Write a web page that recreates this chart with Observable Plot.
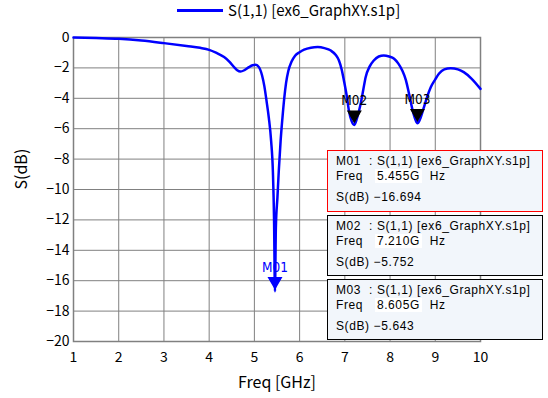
<!DOCTYPE html>
<html><head><meta charset="utf-8">
<script src="https://cdn.jsdelivr.net/npm/d3@7"></script>
<script src="https://cdn.jsdelivr.net/npm/@observablehq/plot@0.6"></script>
<style>
body{margin:0;background:#fff;font-family:"Noto Sans CJK JP","Liberation Sans",sans-serif;}
#wrap{position:relative;width:548px;height:398px;overflow:hidden;background:#fff}
#legend{position:relative;height:24px}
#legend .sw{position:absolute;left:177px;top:9px;width:46px;height:2.5px;background:#0000ff}
#legend .tx{position:absolute;left:228px;top:1px;font-size:15px;line-height:17px;white-space:nowrap}
.box{position:absolute;left:327px;width:216px;background:#f2f6fb;border:1px solid #000;box-sizing:border-box;font-family:"Liberation Sans",sans-serif;font-size:12px;letter-spacing:0.6px;color:#000}
.box .l{position:absolute;left:8px;white-space:nowrap;line-height:13px;height:13px}
.box .v{background:#fff;padding:0 2px}
</style></head>
<body>
<div id="wrap">
  <div id="legend"></div>
  <div id="chart"></div>
</div>
<script>
const seriesName = "S(1,1) [ex6_GraphXY.s1p]";
const freq = [1.0,1.5,2.0,2.5,3.0,3.5,3.8,4.0,4.15,4.33,4.45,4.55,4.62,4.69,4.78,4.88,4.96,5.03,5.1,5.17,5.22,5.27,5.32,5.37,5.41,5.435,5.455,5.475,5.51,5.54,5.58,5.62,5.66,5.70,5.75,5.82,5.9,6.0,6.1,6.25,6.4,6.55,6.69,6.8,6.87,6.93,6.98,7.04,7.09,7.15,7.21,7.27,7.35,7.41,7.46,7.55,7.64,7.75,7.86,7.98,8.09,8.18,8.27,8.35,8.42,8.5,8.56,8.605,8.66,8.75,8.82,8.9,9.0,9.08,9.2,9.34,9.5,9.63,9.8,10.0];
const sdb = [0,-0.04,-0.09,-0.2,-0.37,-0.56,-0.68,-0.81,-1.0,-1.29,-1.6,-1.95,-2.15,-2.24,-2.15,-1.95,-1.83,-1.8,-1.95,-2.5,-3.2,-4.2,-5.3,-6.8,-8.9,-12.0,-16.694,-12.5,-10.5,-8.75,-6.8,-5.3,-4.0,-3.0,-2.2,-1.6,-1.2,-0.97,-0.8,-0.67,-0.63,-0.7,-0.86,-1.15,-1.51,-2.1,-2.83,-3.8,-4.8,-5.5,-5.752,-5.3,-4.36,-3.4,-2.61,-1.9,-1.51,-1.25,-1.18,-1.25,-1.4,-1.7,-2.17,-2.8,-3.7,-4.8,-5.4,-5.643,-5.4,-4.58,-3.9,-3.27,-2.75,-2.39,-2.1,-2.02,-2.1,-2.28,-2.7,-3.38];
const markerNames = ["M01","M02","M03"];
const markerFreq = [5.455,7.210,8.605];
const markerDb = [-16.694,-5.752,-5.643];
const markerFreqText = ["5.455G","7.210G","8.605G"];
const markerDbText = ["\u221216.694","\u22125.752","\u22125.643"];
const xTicks = [1,2,3,4,5,6,7,8,9,10];
const yTicks = [0,-2,-4,-6,-8,-10,-12,-14,-16,-18,-20];
const xLabel = "Freq [GHz]";
const yLabel = "S(dB)";

const data = freq.map((f,i)=>({f, v: sdb[i]}));
const markers = markerNames.map((n,i)=>({n, f: markerFreq[i], v: markerDb[i], c: i===0 ? "#0000ff" : "#000"}));

// legend
document.getElementById("legend").innerHTML =
  `<div class="sw"></div><div class="tx">${seriesName}</div>`;

const chart = Plot.plot({
  width: 548, height: 374,
  marginTop: 13, marginBottom: 57, marginLeft: 73, marginRight: 68,
  style: {background: "#fff", fontFamily: "Noto Sans CJK JP, sans-serif", fontSize: "13px", color: "#000"},
  x: {domain: [1,10]},
  y: {domain: [-20,0]},
  marks: [
    Plot.gridX(xTicks, {stroke: "#808080", strokeOpacity: 1, strokeWidth: 1}),
    Plot.gridY(yTicks, {stroke: "#808080", strokeOpacity: 1, strokeWidth: 1}),
    Plot.frame({stroke: "#808080", strokeWidth: 1.5}),
    Plot.line(data, {x: "f", y: "v", stroke: "#0000ff", strokeWidth: 2.5, curve: "monotone-x"}),
    Plot.axisX(xTicks, {tickSize: 0, tickPadding: 11, label: null, fontSize: 14}),
    Plot.axisY(yTicks, {tickSize: 0, tickPadding: 4, label: null, fontSize: 14}),
    Plot.dot(markers, {x: "f", y: "v", symbol: "triangle", rotate: 180, r: 4.6, fill: "c", stroke: "c", dy: -10}),
    Plot.text(markers, {x: "f", y: "v", text: "n", fill: "c", dy: -24, fontSize: 13.5, fontFamily: "DejaVu Sans Condensed, sans-serif", letterSpacing: "-0.5px"}),
    Plot.text([xLabel], {frameAnchor: "bottom", dy: 46, fontSize: 16}),
    Plot.text([yLabel], {frameAnchor: "left", dx: -52, rotate: -90, fontSize: 16})
  ]
});
document.getElementById("chart").appendChild(chart);

// marker readout boxes
const wrap = document.getElementById("wrap");
const tops = [150, 215, 279];
const heights = [62, 61, 61];
markerNames.forEach((n,i)=>{
  const b = document.createElement("div");
  b.className = "box";
  b.style.top = tops[i] + "px";
  b.style.height = heights[i] + "px";
  if (i===0) { b.style.border = "1.5px solid #ff0000"; }
  b.innerHTML = `<div class="l" style="top:4px">${n}&nbsp;&nbsp;: ${seriesName}</div>
    <div class="l" style="top:19px">Freq&nbsp;&nbsp;&nbsp;<span class="v">${markerFreqText[i]}</span>&nbsp;&nbsp;Hz</div>
    <div class="l" style="top:40px">S(dB) ${markerDbText[i]}</div>`;
  wrap.appendChild(b);
});
</script>
</body></html>
